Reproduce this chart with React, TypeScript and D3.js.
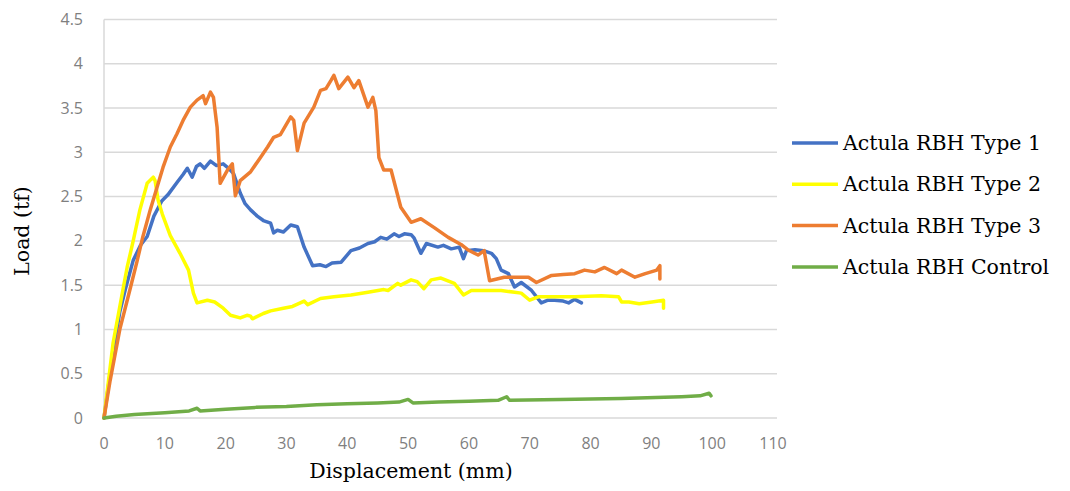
import React, { useRef, useEffect } from "react";
import * as d3 from "d3";

// Load–displacement readings [displacement mm, load tf]
const type1: [number, number][] = [
  [0, 0], [1, 0.5], [2, 0.95], [2.6, 1.2], [3.5, 1.45], [4.8, 1.78], [6, 1.95], [7.1, 2.05],
  [8.2, 2.28], [9.5, 2.45], [10.5, 2.52], [12, 2.66], [13, 2.75], [13.7, 2.82], [14.5, 2.72],
  [15.2, 2.84], [15.8, 2.87], [16.5, 2.82], [17.5, 2.9], [18.5, 2.85], [19.6, 2.87], [20.5, 2.82],
  [21.3, 2.76], [22.4, 2.54], [23.2, 2.42], [24.1, 2.35], [25.2, 2.28], [26.2, 2.23], [27.4, 2.2],
  [27.9, 2.09], [28.5, 2.12], [29.5, 2.1], [30.7, 2.18], [31.8, 2.16], [32.9, 1.93], [34.3, 1.72],
  [35.5, 1.73], [36.5, 1.71], [37.5, 1.75], [39, 1.76], [40.6, 1.89], [42, 1.92], [43.4, 1.97],
  [44.5, 1.99], [45.5, 2.04], [46.5, 2.02], [47.7, 2.08], [48.5, 2.05], [49.4, 2.08], [50.5, 2.07],
  [51, 2.03], [52.1, 1.86], [53, 1.97], [54.9, 1.93], [55.8, 1.95], [57.1, 1.91], [58.4, 1.93],
  [59.1, 1.8], [59.6, 1.89], [61, 1.9], [62.4, 1.89], [63.7, 1.86], [64.5, 1.8], [65.3, 1.67],
  [66.5, 1.63], [67.5, 1.48], [68.6, 1.53], [70.3, 1.44], [71.9, 1.3], [73, 1.33], [74.1, 1.33],
  [75.5, 1.32], [76.4, 1.3], [77.4, 1.34], [78.5, 1.3],
];

const type2: [number, number][] = [
  [0, 0], [1.5, 0.85], [3.2, 1.48], [3.8, 1.7], [4.8, 2.0], [5.9, 2.35], [7.1, 2.65], [8.1, 2.72],
  [8.4, 2.68], [8.9, 2.46], [9.6, 2.3], [10.9, 2.06], [12.5, 1.86], [13.9, 1.67], [14.7, 1.41],
  [15.3, 1.3], [17, 1.33], [18.2, 1.31], [19.6, 1.24], [20.8, 1.16], [22.4, 1.13], [23.5, 1.16],
  [24.1, 1.15], [24.4, 1.12], [26.2, 1.18], [27.4, 1.21], [29.5, 1.24], [31, 1.26], [32.9, 1.32],
  [33.5, 1.28], [35.6, 1.35], [37.8, 1.37], [40.6, 1.39], [43.4, 1.42], [46, 1.45], [46.7, 1.44],
  [48.3, 1.52], [48.8, 1.5], [50.5, 1.56], [51.5, 1.54], [52.6, 1.46], [53.8, 1.56], [55.4, 1.58],
  [57.6, 1.52], [59.1, 1.39], [60.4, 1.44], [63.2, 1.44], [65.3, 1.44], [68.6, 1.41], [70, 1.33],
  [71.5, 1.37], [74.5, 1.37], [77.4, 1.37], [81.8, 1.38], [84.6, 1.37], [85.1, 1.31], [86.3, 1.31],
  [88, 1.29], [90.1, 1.31], [92, 1.33], [92, 1.24],
];

const type3: [number, number][] = [
  [0, 0], [1, 0.42], [2.6, 1.0], [4.3, 1.46], [5.4, 1.76], [6.4, 2.05], [7.6, 2.35], [8.7, 2.6],
  [9.7, 2.83], [10.9, 3.06], [12, 3.21], [13, 3.36], [14.2, 3.51], [15.3, 3.59], [16.3, 3.64],
  [16.7, 3.55], [17.5, 3.68], [18, 3.62], [18.6, 3.28], [19.1, 2.65], [20.3, 2.8], [21.1, 2.87],
  [21.6, 2.51], [22.4, 2.68], [24.1, 2.78], [25.7, 2.94], [26.9, 3.06], [27.9, 3.17], [29, 3.2],
  [30.7, 3.4], [31.2, 3.36], [31.8, 3.02], [32.9, 3.33], [34.5, 3.51], [35.6, 3.7], [36.5, 3.72],
  [37.3, 3.81], [37.8, 3.87], [38.6, 3.72], [40.1, 3.85], [41.1, 3.73], [41.9, 3.81], [43.4, 3.51],
  [44.2, 3.62], [44.7, 3.47], [45.2, 2.94], [46, 2.8], [47.2, 2.8], [48.8, 2.38], [50.5, 2.21],
  [52.1, 2.25], [54.3, 2.15], [56.6, 2.04], [58.7, 1.96], [59.8, 1.9], [61.5, 1.84], [62.5, 1.89],
  [63.4, 1.55], [65.8, 1.59], [69.8, 1.59], [71.1, 1.53], [73.6, 1.61], [75.5, 1.62], [77.4, 1.63],
  [79, 1.67], [80.7, 1.65], [82.3, 1.7], [84.3, 1.63], [85.1, 1.67], [87.3, 1.59], [89, 1.63],
  [90.9, 1.67], [91.4, 1.72], [91.4, 1.57],
];

const control: [number, number][] = [
  [0, 0], [2, 0.02], [5, 0.04], [10, 0.06], [14, 0.08], [15.3, 0.11], [15.8, 0.08], [20, 0.1],
  [25, 0.12], [30, 0.13], [35, 0.15], [40, 0.16], [45, 0.17], [48.5, 0.18], [50, 0.21], [50.8, 0.17],
  [55, 0.18], [60, 0.19], [64.8, 0.2], [66.2, 0.24], [66.7, 0.2], [75, 0.21], [85, 0.22], [95, 0.24],
  [98, 0.25], [99.5, 0.28], [99.8, 0.25],
];

const seriesNames = ["Actula RBH Type 1", "Actula RBH Type 2", "Actula RBH Type 3", "Actula RBH Control"];
const seriesColors = ["#4472c4", "#ffff00", "#ed7d31", "#70ad47"];
const xTicks = [0, 10, 20, 30, 40, 50, 60, 70, 80, 90, 100, 110];
const yTicks = [0, 0.5, 1, 1.5, 2, 2.5, 3, 3.5, 4, 4.5];

const LoadChart = ({ width = 1070, height = 491 }) => {
  const svgRef = useRef<SVGSVGElement>(null);

  useEffect(() => {
    const svg = d3.select(svgRef.current).attr("width", width).attr("height", height);
    svg.selectAll("*").remove();

    const xScale = d3.scaleLinear().domain([0, 110]).range([104, 773]);
    const yScale = d3.scaleLinear().domain([0, 4.5]).range([418, 19.5]);

    // gridlines
    svg.append("g")
      .selectAll("line")
      .data(yTicks)
      .enter()
      .append("line")
      .attr("x1", xScale(0))
      .attr("x2", 777)
      .attr("y1", (d) => yScale(d))
      .attr("y2", (d) => yScale(d))
      .attr("stroke", "#d9d9d9")
      .attr("stroke-width", 1.5);

    svg.append("line")
      .attr("x1", xScale(0)).attr("x2", xScale(0))
      .attr("y1", yScale(0)).attr("y2", yScale(4.5))
      .attr("stroke", "#d9d9d9").attr("stroke-width", 1.5);

    // tick labels
    const tickFont = "'Open Sans', sans-serif";
    svg.append("g")
      .selectAll("text")
      .data(yTicks)
      .enter()
      .append("text")
      .attr("x", 83)
      .attr("y", (d) => yScale(d) + 5.5)
      .attr("text-anchor", "end")
      .attr("font-family", tickFont)
      .attr("font-size", 16)
      .attr("fill", "#7f7f7f")
      .text((d) => d);

    svg.append("g")
      .selectAll("text")
      .data(xTicks)
      .enter()
      .append("text")
      .attr("x", (d) => xScale(d))
      .attr("y", 449)
      .attr("text-anchor", "middle")
      .attr("font-family", tickFont)
      .attr("font-size", 16)
      .attr("fill", "#7f7f7f")
      .text((d) => d);

    // lines
    const line = d3.line<[number, number]>()
      .x((d) => xScale(d[0]))
      .y((d) => yScale(d[1]));

    const allSeries = [type1, type2, type3, control];
    allSeries.forEach((data, i) => {
      svg.append("path")
        .datum(data)
        .attr("d", line)
        .attr("fill", "none")
        .attr("stroke", seriesColors[i])
        .attr("stroke-width", 3.5)
        .attr("stroke-linejoin", "round")
        .attr("stroke-linecap", "round");
    });

    // axis titles
    const titleFont = "'DejaVu Serif', serif";
    svg.append("text")
      .attr("x", 411)
      .attr("y", 478)
      .attr("text-anchor", "middle")
      .attr("font-family", titleFont)
      .attr("font-size", 20.5)
      .attr("fill", "#000")
      .text("Displacement (mm)");

    svg.append("text")
      .attr("transform", "translate(29,231) rotate(-90)")
      .attr("text-anchor", "middle")
      .attr("font-family", titleFont)
      .attr("font-size", 20.5)
      .attr("fill", "#000")
      .text("Load (tf)");

    // legend
    const legend = svg.append("g");
    seriesNames.forEach((name, i) => {
      const y = 143 + i * 41.3;
      legend.append("line")
        .attr("x1", 792).attr("x2", 838)
        .attr("y1", y).attr("y2", y)
        .attr("stroke", seriesColors[i])
        .attr("stroke-width", 3.5);
      legend.append("text")
        .attr("x", 843)
        .attr("y", y + 7)
        .attr("font-family", titleFont)
        .attr("font-size", 20.5)
        .attr("fill", "#000")
        .text(name);
    });
  }, [width, height]);

  return <svg ref={svgRef} style={{ position: "absolute", left: 0, top: 0, background: "#fff" }}></svg>;
};

export default function App() {
  return <LoadChart />;
}
